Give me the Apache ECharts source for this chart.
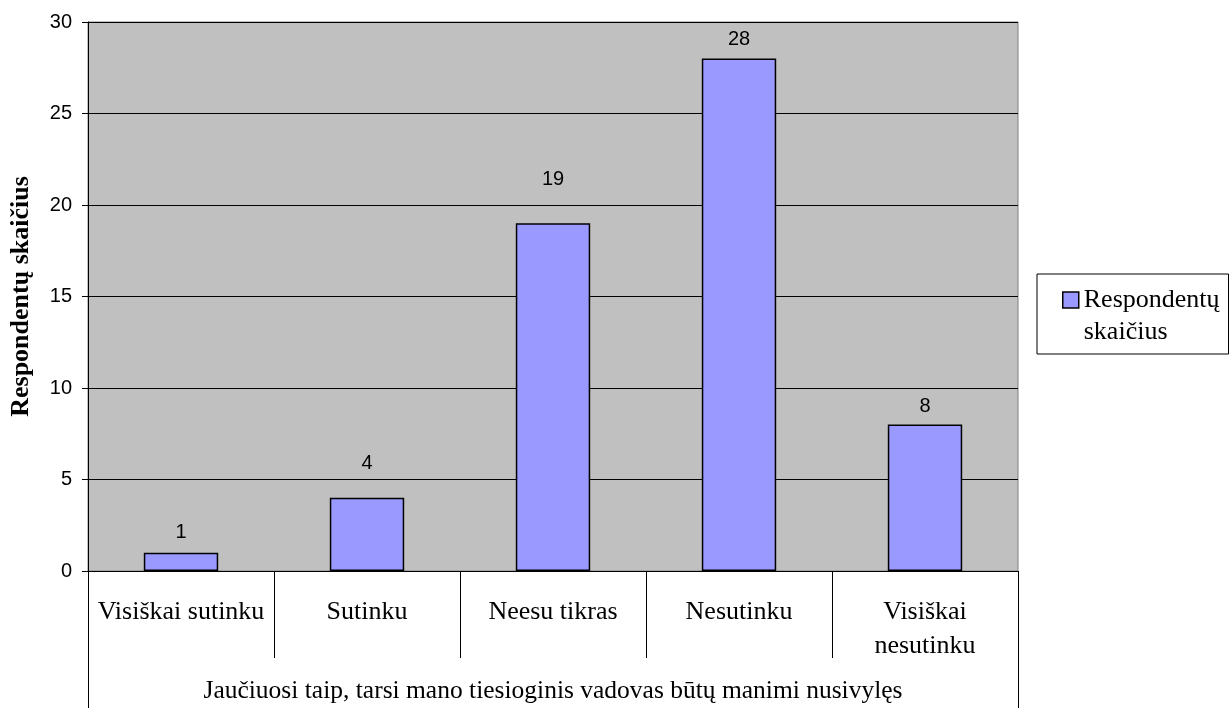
<!DOCTYPE html>
<html lang="lt">
<head>
  <meta charset="UTF-8">
  <title>Jaučiuosi taip, tarsi mano tiesioginis vadovas būtų manimi nusivylęs</title>
  <script src="https://cdn.jsdelivr.net/npm/echarts@6/dist/echarts.min.js"></script>
  <style>
    html, body { margin: 0; padding: 0; background: #fff; }
  </style>
</head>
<body>

  <div id="main" style="width: 1232px;height:708px;"></div>

  <script type="text/javascript">
    // Data
    const categories = ['Visiškai sutinku', 'Sutinku', 'Neesu tikras', 'Nesutinku', 'Visiškai nesutinku'];
    const respondents = [1, 4, 19, 28, 8];
    const seriesName = 'Respondentų skaičius';
    const groupTitle = ['Jaučiuosi taip, tarsi mano tiesioginis vadovas būtų manimi nusivylęs'];

    const serif = '"Liberation Serif", "Times New Roman", serif';
    const sans = '"Liberation Sans", Arial, sans-serif';
    // the original places some value labels higher above their bars
    const labelDistance = [10, 24, 34, 9, 8];

    let myChart = echarts.init(document.getElementById('main'));

    let options = {
      animation: false,
      backgroundColor: '#fff',
      grid: {
        left: 88, right: 214, top: 22, bottom: 137,
        outerBoundsMode: 'none',
        show: true,
        backgroundColor: '#c0c0c0',
        borderColor: '#808080',
        borderWidth: 1
      },
      legend: {
        data: [seriesName],
        orient: 'vertical',
        left: 1037,
        top: 274,
        itemWidth: 16,
        itemHeight: 16,
        itemGap: 0,
        // blank first line keeps the icon level with the first text line
        padding: [-22, 9, 6, 25],
        borderColor: '#000',
        borderWidth: 1,
        icon: 'rect',
        itemStyle: { borderColor: '#000', borderWidth: 1.5 },
        formatter: () => '\nRespondentų\nskaičius',
        textStyle: {
          fontFamily: serif,
          fontSize: 26,
          color: '#000',
          lineHeight: 32
        }
      },
      xAxis: [{
        type: 'category',
        data: categories,
        axisLine: { lineStyle: { color: '#000', width: 1 } },
        axisTick: { show: true, length: 87, interval: 0, lineStyle: { color: '#000' } },
        axisLabel: {
          interval: 0,
          margin: 24,
          lineHeight: 34,
          // only the longest label is too wide for its slot
          formatter: v => v.length > 16 ? v.replace(' ', '\n') : v,
          fontFamily: serif,
          fontSize: 26,
          color: '#000'
        }
      }, {
        type: 'category',
        data: groupTitle,
        position: 'bottom',
        offset: 0,
        axisLine: { show: false },
        axisTick: { show: true, length: 137, lineStyle: { color: '#000' } },
        axisLabel: {
          margin: 107,
          fontFamily: serif,
          fontSize: 25.5,
          color: '#000'
        }
      }],
      yAxis: {
        type: 'value',
        min: 0,
        max: 30,
        interval: 5,
        name: seriesName,
        nameLocation: 'middle',
        nameRotate: 90,
        nameGap: 54,
        nameTextStyle: {
          fontFamily: serif,
          fontSize: 26,
          fontWeight: 'bold',
          color: '#000'
        },
        axisLine: { show: true, lineStyle: { color: '#000' } },
        axisTick: { show: true, length: 6, lineStyle: { color: '#000' } },
        axisLabel: {
          margin: 16,
          fontFamily: sans,
          fontSize: 20,
          color: '#000'
        },
        splitLine: { lineStyle: { color: '#000', width: 1 } }
      },
      series: [{
        name: seriesName,
        type: 'bar',
        data: respondents.map((v, i) => ({ value: v, label: { distance: labelDistance[i] } })),
        barWidth: '40%',
        itemStyle: { color: '#9999ff', borderColor: '#000', borderWidth: 1.5 },
        label: {
          show: true,
          position: 'top',
          fontFamily: sans,
          fontSize: 20,
          color: '#000'
        }
      }]
    };

    myChart.setOption(options);
  </script>
</body>
</html>
